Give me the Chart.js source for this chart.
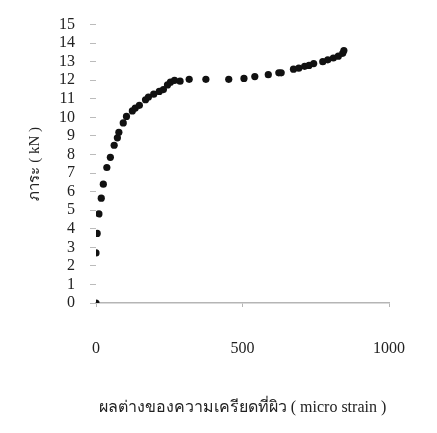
<!DOCTYPE html>
<html>
<head>
<meta charset="utf-8">
<script src="https://cdn.jsdelivr.net/npm/chart.js@4"></script>
<style>
  html, body { margin: 0; padding: 0; background: #fff; }
  #wrap { position: relative; width: 437px; height: 433px; }
</style>
</head>
<body>
<div id="wrap"><canvas id="chart"></canvas></div>
<script>
// strain difference (micro strain) vs load (kN)
const strain = [0, 0, 4, 10, 18, 25, 37, 49, 62, 73, 78, 93, 104, 124, 134, 148, 169, 179, 197, 216, 230, 244, 254, 268, 287, 318, 375, 453, 505, 542, 588, 624, 632, 674, 692, 712, 727, 743, 774, 791, 810, 827, 842, 846];
const load = [0, 2.7, 3.75, 4.8, 5.65, 6.4, 7.3, 7.85, 8.5, 8.9, 9.2, 9.7, 10.05, 10.35, 10.5, 10.65, 10.95, 11.1, 11.25, 11.4, 11.5, 11.75, 11.9, 12.0, 11.95, 12.05, 12.05, 12.05, 12.1, 12.2, 12.3, 12.4, 12.4, 12.6, 12.65, 12.75, 12.8, 12.9, 13.0, 13.1, 13.2, 13.3, 13.45, 13.6];
const xTicks = [0, 500, 1000];
const yTicks = [0, 1, 2, 3, 4, 5, 6, 7, 8, 9, 10, 11, 12, 13, 14, 15];

const xTitle = 'ผลต่างของความเครียดที่ผิว ( micro strain )';
const yTitle = 'ภาระ ( kN )';

const points = strain.map((x, i) => ({ x: x, y: load[i] }));

const serif = 'Liberation Serif';

new Chart(document.getElementById('chart'), {
    type: 'scatter',
    data: {
        datasets: [
            {
                data: points,
                showLine: false,
                backgroundColor: '#111',
                borderColor: '#111',
                borderWidth: 0,
                pointRadius: 3.6,
                pointHoverRadius: 3.6,
            },
        ],
    },
    options: {
        responsive: true,
        maintainAspectRatio: false,
        animation: false,
        events: [],
        layout: { padding: { top: 20, right: 20, left: 0, bottom: 0 } },
        plugins: { legend: { display: false }, tooltip: { enabled: false } },
        scales: {
            x: {
                type: 'linear',
                min: xTicks[0],
                max: xTicks[xTicks.length - 1],
                afterFit: (s) => { s.height = 130; },
                border: { display: true, color: '#b5b5b5', width: 1.5 },
                grid: { drawOnChartArea: false, tickLength: 4, color: '#b5b5b5' },
                ticks: {
                    stepSize: xTicks[1] - xTicks[0],
                    autoSkip: false,
                    maxRotation: 0,
                    callback: (v) => String(v),
                    color: '#222',
                    padding: 32,
                    font: { family: serif, size: 16 },
                },
                title: {
                    display: true,
                    text: xTitle,
                    color: '#222',
                    padding: { top: 0, bottom: 16 },
                    font: { family: serif, size: 16 },
                },
            },
            y: {
                type: 'linear',
                min: yTicks[0],
                max: yTicks[yTicks.length - 1],
                afterFit: (s) => { s.width = 96; },
                border: { display: false },
                grid: { drawOnChartArea: false, tickLength: 6, color: '#bbb' },
                ticks: {
                    stepSize: yTicks[1] - yTicks[0],
                    autoSkip: false,
                    maxRotation: 0,
                    callback: (v) => String(v),
                    color: '#222',
                    padding: 15,
                    font: { family: serif, size: 16 },
                },
                title: {
                    display: true,
                    text: yTitle,
                    color: '#222',
                    padding: { top: 26, bottom: 0 },
                    font: { family: serif, size: 15 },
                },
            },
        },
    },
});
</script>
</body>
</html>
